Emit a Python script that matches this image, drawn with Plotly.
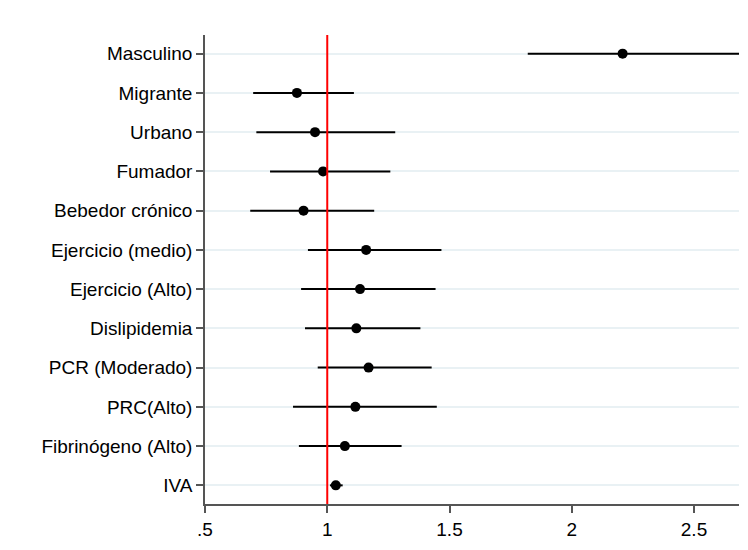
import plotly.graph_objects as go

categories = ["Masculino", "Migrante", "Urbano", "Fumador", "Bebedor crónico",
              "Ejercicio (medio)", "Ejercicio (Alto)", "Dislipidemia",
              "PCR (Moderado)", "PRC(Alto)", "Fibrinógeno (Alto)", "IVA"]
estimate = [2.208, 0.876, 0.950, 0.983, 0.903, 1.159, 1.134, 1.119, 1.169, 1.115, 1.072, 1.035]
ci_low = [1.820, 0.697, 0.710, 0.766, 0.685, 0.921, 0.893, 0.909, 0.961, 0.860, 0.884, 1.011]
ci_high = [2.70, 1.109, 1.278, 1.258, 1.192, 1.467, 1.443, 1.381, 1.427, 1.448, 1.304, 1.063]
x_tickvals = [0.5, 1, 1.5, 2, 2.5]
x_ticktext = [".5", "1", "1.5", "2", "2.5"]

err_plus = [h - e for h, e in zip(ci_high, estimate)]
err_minus = [e - l for e, l in zip(estimate, ci_low)]

fig = go.Figure()
fig.add_trace(go.Scatter(
    x=estimate, y=categories, mode="markers",
    marker=dict(color="black", size=10),
    error_x=dict(type="data", symmetric=False, array=err_plus, arrayminus=err_minus,
                 color="black", thickness=2, width=0),
    showlegend=False, cliponaxis=True,
))

fig.add_shape(type="line", xref="x", yref="paper", x0=1, x1=1, y0=0, y1=1,
              line=dict(color="#ff0000", width=2), layer="above")

fig.update_layout(
    width=748, height=550,
    margin=dict(l=197, r=17, t=27, b=54),
    paper_bgcolor="white", plot_bgcolor="white",
    font=dict(family="Liberation Sans, Arial, sans-serif", size=19, color="black"),
    xaxis=dict(range=[0.5, 2.684], tickvals=x_tickvals, ticktext=x_ticktext,
               showgrid=False, zeroline=False, showline=True, linecolor="#555555",
               linewidth=1.5, ticks="outside", ticklen=7, tickcolor="#555555",
               tickwidth=1.5),
    yaxis=dict(type="category", categoryorder="array", categoryarray=categories,
               range=[11.475, -0.475], showgrid=True, gridcolor="#e9f1f4", gridwidth=1.5,
               zeroline=False, showline=True, linecolor="#555555", linewidth=1.5,
               ticks="outside", ticklen=7, tickcolor="#555555", tickwidth=1.5),
)

fig.write_html("out.html")
